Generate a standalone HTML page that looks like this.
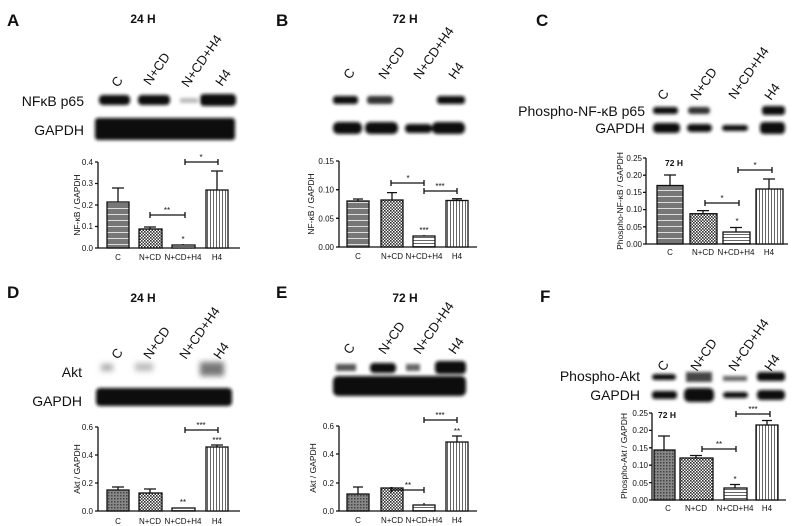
<!DOCTYPE html>
<html><head><meta charset="utf-8"><style>
html,body{margin:0;padding:0;background:#fff;}
svg{display:block;font-family:"Liberation Sans",Arial,sans-serif;}
</style></head><body>
<svg width="792" height="526" viewBox="0 0 792 526" xmlns="http://www.w3.org/2000/svg">
<defs>
<filter id="bl" x="-20%" y="-50%" width="140%" height="200%"><feGaussianBlur stdDeviation="1.6"/></filter>
<filter id="bl2" x="-20%" y="-50%" width="140%" height="200%"><feGaussianBlur stdDeviation="3"/></filter>
<pattern id="hs" width="4" height="6" patternUnits="userSpaceOnUse"><rect width="4" height="6" fill="#777"/><rect y="4" width="4" height="1" fill="#ddd"/></pattern>
<pattern id="ck" width="3" height="3" patternUnits="userSpaceOnUse"><rect width="3" height="3" fill="#fff"/><rect width="1.6" height="1.6" fill="#333"/><rect x="1.5" y="1.5" width="1.5" height="1.5" fill="#333"/></pattern>
<pattern id="hl" width="4" height="3" patternUnits="userSpaceOnUse"><rect width="4" height="3" fill="#fff"/><rect width="4" height="1" fill="#666"/></pattern>
<pattern id="vl" width="3" height="4" patternUnits="userSpaceOnUse"><rect width="3" height="4" fill="#fff"/><rect width="1" height="4" fill="#666"/></pattern>
<pattern id="dk" width="3" height="3" patternUnits="userSpaceOnUse"><rect width="3" height="3" fill="#888"/><rect width="1.5" height="1.5" fill="#444"/></pattern>
</defs>
<g font-weight="bold" font-size="17" fill="#111">
<text x="7" y="26">A</text><text x="276" y="26">B</text><text x="536" y="26">C</text>
<text x="7" y="298">D</text><text x="276" y="298">E</text><text x="540" y="302">F</text>
</g>
<g font-weight="bold" font-size="12" fill="#111">
<text x="143" y="23" text-anchor="middle">24 H</text><text x="405" y="23" text-anchor="middle">72 H</text>
<text x="143" y="302" text-anchor="middle">24 H</text><text x="405" y="302" text-anchor="middle">72 H</text>
</g>
<g font-size="13" fill="#111">
<text transform="translate(118,88) rotate(-55)">C</text><text transform="translate(150,86) rotate(-55)">N+CD</text><text transform="translate(188,88) rotate(-55)">N+CD+H4</text><text transform="translate(222,87) rotate(-55)">H4</text>
<text transform="translate(350,80) rotate(-55)">C</text><text transform="translate(385,80) rotate(-55)">N+CD</text><text transform="translate(420,80) rotate(-55)">N+CD+H4</text><text transform="translate(455,80) rotate(-55)">H4</text>
<text transform="translate(664,101) rotate(-55)">C</text><text transform="translate(697,101) rotate(-55)">N+CD</text><text transform="translate(735,100) rotate(-55)">N+CD+H4</text><text transform="translate(771,101) rotate(-55)">H4</text>
<text transform="translate(118,360) rotate(-55)">C</text><text transform="translate(150,360) rotate(-55)">N+CD</text><text transform="translate(186,360) rotate(-55)">N+CD+H4</text><text transform="translate(220,360) rotate(-55)">H4</text>
<text transform="translate(350,355) rotate(-55)">C</text><text transform="translate(385,355) rotate(-55)">N+CD</text><text transform="translate(420,355) rotate(-55)">N+CD+H4</text><text transform="translate(455,355) rotate(-55)">H4</text>
<text transform="translate(664,372) rotate(-55)">C</text><text transform="translate(697,372) rotate(-55)">N+CD</text><text transform="translate(735,372) rotate(-55)">N+CD+H4</text><text transform="translate(771,372) rotate(-55)">H4</text>
</g>
<g font-size="14" fill="#111" text-anchor="end">
<text x="84" y="106">NFκB p65</text><text x="84" y="135">GAPDH</text>
<text x="645" y="116">Phospho-NF-κB p65</text><text x="645" y="133">GAPDH</text>
<text x="82" y="377">Akt</text><text x="82" y="406">GAPDH</text>
<text x="640" y="381">Phospho-Akt</text><text x="640" y="400">GAPDH</text>
</g>
<g fill="#111" filter="url(#bl)">
<rect x="99" y="95" width="31" height="10" rx="4"/><rect x="138" y="95" width="32" height="10" rx="4"/><rect x="180" y="98" width="18" height="5" fill="#bbb"/><rect x="200" y="94" width="36" height="12" rx="4"/>
<rect x="95" y="118" width="140" height="22" rx="3"/>
<rect x="333" y="96" width="25" height="8" rx="3"/><rect x="367" y="96" width="26" height="8" rx="3" fill="#333"/><rect x="437" y="96" width="28" height="8" rx="3"/>
<rect x="333" y="122" width="29" height="12" rx="5"/><rect x="365" y="122" width="33" height="12" rx="5"/><rect x="405" y="124" width="27" height="9" rx="4"/><rect x="432" y="122" width="33" height="12" rx="5"/>
<rect x="653" y="107" width="25" height="7" rx="3"/><rect x="688" y="107" width="22" height="7" rx="3" fill="#333"/><rect x="762" y="106" width="23" height="9" rx="3"/>
<rect x="653" y="123" width="27" height="10" rx="4"/><rect x="687" y="124" width="25" height="8" rx="4"/><rect x="722" y="125" width="26" height="6" rx="3"/><rect x="760" y="122" width="25" height="12" rx="4"/>
<rect x="96" y="388" width="136" height="18" rx="4"/>
<rect x="333" y="376" width="133" height="20" rx="5"/>
<rect x="370" y="363" width="26" height="10" rx="4"/><rect x="435" y="361" width="31" height="13" rx="4"/>
<rect x="336" y="364" width="20" height="7" fill="#555"/><rect x="406" y="364" width="14" height="7" fill="#666"/>
<rect x="652" y="374" width="24" height="6" rx="3"/><rect x="686" y="372" width="26" height="10" fill="#444"/><rect x="723" y="376" width="24" height="5" fill="#666"/><rect x="757" y="372" width="28" height="9" rx="3"/>
<rect x="652" y="391" width="25" height="8" rx="3"/><rect x="684" y="388" width="30" height="14" rx="5"/><rect x="723" y="392" width="25" height="6" rx="3"/><rect x="757" y="390" width="28" height="10" rx="4"/>
</g>
<g filter="url(#bl2)"><rect x="101" y="364" width="12" height="7" fill="#aaa"/><rect x="135" y="363" width="18" height="8" fill="#bbb"/><rect x="200" y="362" width="24" height="14" fill="#777"/></g>

<g stroke="#111" stroke-width="1.3" font-size="8" fill="#111">
<g><path d="M98,162V248H240" fill="none"/><path d="M95,162h3M95,183.5h3M95,205h3M95,226.5h3M95,248h3"/>
<g stroke="none" text-anchor="end"><text x="93" y="165">0.4</text><text x="93" y="186">0.3</text><text x="93" y="208">0.2</text><text x="93" y="229">0.1</text><text x="93" y="251">0.0</text></g>
<rect x="107" y="202" width="22" height="46" fill="url(#hs)"/><rect x="139" y="229" width="23" height="19" fill="url(#ck)"/><rect x="172" y="245" width="23" height="3" fill="url(#hl)"/><rect x="206" y="190" width="22" height="58" fill="url(#vl)"/>
<path d="M118,202V188M112,188h12M150,229V227M144,227h12M183,245V244M217,190V171M211,171h12M150,215h35M150,212v6M185,212v6M185,162h33M185,159v6M218,159v6" fill="none"/>
<g stroke="none" text-anchor="middle"><text x="167" y="213">**</text><text x="183" y="242">*</text><text x="201" y="160">*</text><text x="118" y="260">C</text><text x="150" y="260">N+CD</text><text x="183" y="260">N+CD+H4</text><text x="217" y="260">H4</text></g>
<text stroke="none" transform="translate(80,205) rotate(-90)" text-anchor="middle" font-size="8.5">NF-κB / GAPDH</text></g>
<g><path d="M339,161V247H477" fill="none"/><path d="M336,161h3M336,189.7h3M336,218.3h3M336,247h3"/>
<g stroke="none" text-anchor="end"><text x="334" y="164">0.15</text><text x="334" y="192.7">0.10</text><text x="334" y="221.3">0.05</text><text x="334" y="250">0.00</text></g>
<rect x="347" y="201" width="22" height="46" fill="url(#hs)"/><rect x="381" y="200" width="22" height="47" fill="url(#ck)"/><rect x="413" y="236" width="22" height="11" fill="url(#hl)"/><rect x="446" y="200.5" width="22" height="46.5" fill="url(#vl)"/>
<path d="M358,201V199M353,199h10M392,200V192.6M387,192.6h10M424,236V235M457,200.5V198.8M452,198.8h10M391,183h33M391,180v6M424,180v6M424,191h33M424,188v6M457,188v6" fill="none"/>
<g stroke="none" text-anchor="middle"><text x="408" y="181">*</text><text x="440" y="189">***</text><text x="424" y="233">***</text><text x="358" y="259">C</text><text x="392" y="259">N+CD</text><text x="424" y="259">N+CD+H4</text><text x="457" y="259">H4</text></g>
<text stroke="none" transform="translate(314,204) rotate(-90)" text-anchor="middle" font-size="8.5">NF-κB / GAPDH</text></g>
<g><path d="M646,158V244H788" fill="none"/><path d="M643,158h3M643,175.2h3M643,192.4h3M643,209.6h3M643,226.8h3M643,244h3"/>
<g stroke="none" text-anchor="end"><text x="642" y="161">0.25</text><text x="642" y="178">0.20</text><text x="642" y="195">0.15</text><text x="642" y="212">0.10</text><text x="642" y="230">0.05</text><text x="642" y="247">0.00</text></g>
<rect x="657" y="185.5" width="26" height="58.5" fill="url(#hs)"/><rect x="690" y="213.7" width="27" height="30.3" fill="url(#ck)"/><rect x="723" y="232" width="27" height="12" fill="url(#hl)"/><rect x="756" y="189" width="27" height="55" fill="url(#vl)"/>
<path d="M670,185.5V175M664,175h12M703,213.7V210.6M697,210.6h12M736,232V227.5M730,227.5h12M769,189V179M763,179h12M705,203h34M705,200v6M739,200v6M738,170h34M738,167v6M772,167v6" fill="none"/>
<g stroke="none" text-anchor="middle"><text x="722" y="201">*</text><text x="737" y="224">*</text><text x="755" y="168">*</text><text x="670" y="255">C</text><text x="703" y="255">N+CD</text><text x="736" y="255">N+CD+H4</text><text x="769" y="255">H4</text></g>
<text stroke="none" x="665" y="166" font-weight="bold" font-size="8.5">72 H</text>
<text stroke="none" transform="translate(623,201) rotate(-90)" text-anchor="middle" font-size="8.5">Phospho-NF-κB / GAPDH</text></g>
<g><path d="M98,427V511H240" fill="none"/><path d="M95,427h3M95,455h3M95,483h3M95,511h3"/>
<g stroke="none" text-anchor="end"><text x="93" y="430">0.6</text><text x="93" y="458">0.4</text><text x="93" y="486">0.2</text><text x="93" y="514">0.0</text></g>
<rect x="107" y="490" width="22" height="21" fill="url(#dk)"/><rect x="139" y="493" width="23" height="18" fill="url(#ck)"/><rect x="172" y="508" width="23" height="3" fill="url(#hl)"/><rect x="206" y="447" width="22" height="64" fill="url(#vl)"/>
<path d="M118,490V487M112,487h12M150,493V489M144,489h12M217,447V445M211,445h12M185,430h33M185,427v6M218,427v6" fill="none"/>
<g stroke="none" text-anchor="middle"><text x="183" y="505">**</text><text x="217" y="443">***</text><text x="201" y="428">***</text><text x="118" y="524">C</text><text x="150" y="524">N+CD</text><text x="183" y="524">N+CD+H4</text><text x="217" y="524">H4</text></g>
<text stroke="none" transform="translate(80,469) rotate(-90)" text-anchor="middle" font-size="8.5">Akt / GAPDH</text></g>
<g><path d="M339,426V511H477" fill="none"/><path d="M336,426h3M336,454h3M336,483h3M336,511h3"/>
<g stroke="none" text-anchor="end"><text x="334" y="429">0.6</text><text x="334" y="457">0.4</text><text x="334" y="486">0.2</text><text x="334" y="514">0.0</text></g>
<rect x="347" y="494" width="22" height="17" fill="url(#dk)"/><rect x="381" y="488" width="22" height="23" fill="url(#ck)"/><rect x="413" y="505" width="22" height="6" fill="url(#hl)"/><rect x="446" y="442" width="22" height="69" fill="url(#vl)"/>
<path d="M358,494V487M353,487h10M392,488V487M424,505V503M457,442V436M452,436h10M391,490h33M391,487v6M424,487v6M424,420h33M424,417v6M457,417v6" fill="none"/>
<g stroke="none" text-anchor="middle"><text x="408" y="488">**</text><text x="440" y="418">***</text><text x="457" y="434">**</text><text x="358" y="523">C</text><text x="392" y="523">N+CD</text><text x="424" y="523">N+CD+H4</text><text x="457" y="523">H4</text></g>
<text stroke="none" transform="translate(316,468) rotate(-90)" text-anchor="middle" font-size="8.5">Akt / GAPDH</text></g>
<g><path d="M652,413V500H786" fill="none"/><path d="M649,413h3M649,430.4h3M649,447.8h3M649,465.2h3M649,482.6h3M649,500h3"/>
<g stroke="none" text-anchor="end"><text x="648" y="416">0.25</text><text x="648" y="433">0.20</text><text x="648" y="451">0.15</text><text x="648" y="468">0.10</text><text x="648" y="486">0.05</text><text x="648" y="503">0.00</text></g>
<rect x="654" y="450" width="21" height="50" fill="url(#dk)"/><rect x="680" y="458" width="33" height="42" fill="url(#ck)"/><rect x="724" y="488" width="23" height="12" fill="url(#hl)"/><rect x="756" y="425" width="22" height="75" fill="url(#vl)"/>
<path d="M664,450V436M658,436h12M696,458V455.5M690,455.5h12M735,488V484.5M730,484.5h10M767,425V420.5M762,420.5h10M702,449h34M702,446v6M736,446v6M736,414h34M736,411v6M770,411v6" fill="none"/>
<g stroke="none" text-anchor="middle"><text x="719" y="447">**</text><text x="735" y="482">*</text><text x="753" y="412">***</text><text x="668" y="511">C</text><text x="696" y="511">N+CD</text><text x="735" y="511">N+CD+H4</text><text x="767" y="511">H4</text></g>
<text stroke="none" x="658" y="418" font-weight="bold" font-size="8.5">72 H</text>
<text stroke="none" transform="translate(627,456) rotate(-90)" text-anchor="middle" font-size="8.5">Phospho-Akt / GAPDH</text></g>
</g>
</svg>
</body></html>
